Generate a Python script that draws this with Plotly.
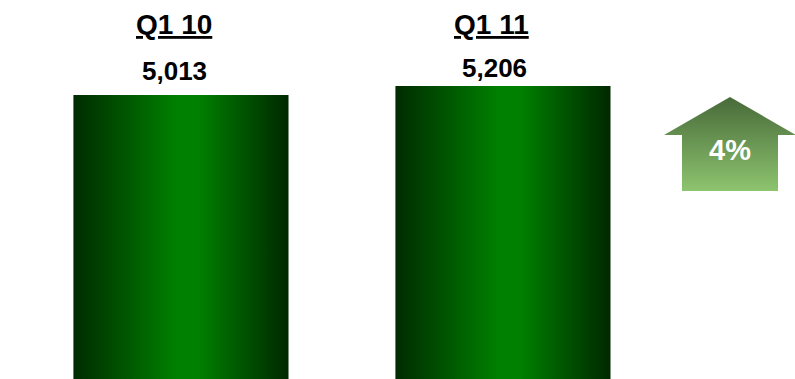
import plotly.graph_objects as go

# ---- data ----
categories = ["Q1 10", "Q1 11"]
values = [5013, 5206]
growth_pct = round((values[1] / values[0] - 1) * 100)

# ---- style / layout constants ----
W, H = 795, 379
Y_MIN, Y_MAX = -1077, 7051
X_MIN, X_MAX = -0.562, 1.907
BAR_W = 0.668
BAR_SCALE = [[0.0, "#002b00"], [0.48, "#008000"], [0.58, "#008000"], [1.0, "#002800"]]
TITLE_SHIFT = [-7, -11]
VALUE_SHIFT = [-6, -8]
TITLE_Y_PX = 24
VALUE_Y_PX = [70.5, 68]

fig = go.Figure()

for i, (cat, v) in enumerate(zip(categories, values)):
    x0, x1 = i - BAR_W / 2, i + BAR_W / 2
    fig.add_trace(go.Scatter(
        x=[x0, x1, x1, x0, x0],
        y=[Y_MIN, Y_MIN, v, v, Y_MIN],
        mode="lines", line=dict(width=0), fill="toself",
        fillgradient=dict(type="horizontal", colorscale=BAR_SCALE),
        hoverinfo="skip", showlegend=False,
    ))
    fig.add_annotation(
        x=i, y=1 - TITLE_Y_PX / H, xref="x", yref="paper",
        text=f"<b>{cat}</b>", showarrow=False, xshift=TITLE_SHIFT[i],
        yanchor="middle",
        font=dict(family="Liberation Sans, Arial", size=28, color="black",
                  lineposition="under"),
    )
    fig.add_annotation(
        x=i, y=1 - VALUE_Y_PX[i] / H, xref="x", yref="paper",
        text=f"<b>{v:,}</b>", showarrow=False, xshift=VALUE_SHIFT[i],
        yanchor="middle",
        font=dict(family="Liberation Sans, Arial", size=26, color="black"),
    )

# growth arrow (decoration in pixel space on overlay axes)
ax = [730, 796, 778, 778, 682, 682, 664, 730]
ay = [97, 135, 135, 191, 191, 135, 135, 97]
fig.add_trace(go.Scatter(
    x=ax, y=ay, xaxis="x2", yaxis="y2",
    mode="lines", line=dict(width=0), fill="toself",
    fillgradient=dict(type="vertical",
                      colorscale=[[0, "#8dc46f"], [1, "#486a39"]]),
    hoverinfo="skip", showlegend=False,
))
fig.add_annotation(
    x=730, y=150, xref="x2", yref="y2", text=f"<b>{growth_pct}%</b>",
    showarrow=False, yanchor="middle",
    font=dict(family="Liberation Sans, Arial", size=29, color="white"),
)

fig.update_layout(
    width=W, height=H,
    margin=dict(l=0, r=0, t=0, b=0),
    paper_bgcolor="white", plot_bgcolor="white",
    xaxis=dict(range=[X_MIN, X_MAX], visible=False, fixedrange=True),
    yaxis=dict(range=[Y_MIN, Y_MAX], visible=False, fixedrange=True),
    xaxis2=dict(range=[0, W], visible=False, overlaying="x", fixedrange=True),
    yaxis2=dict(range=[H, 0], visible=False, overlaying="y", fixedrange=True),
    showlegend=False,
)

fig.write_html("out.html", config={"displayModeBar": False},
               post_script="document.body.style.margin='0';")
